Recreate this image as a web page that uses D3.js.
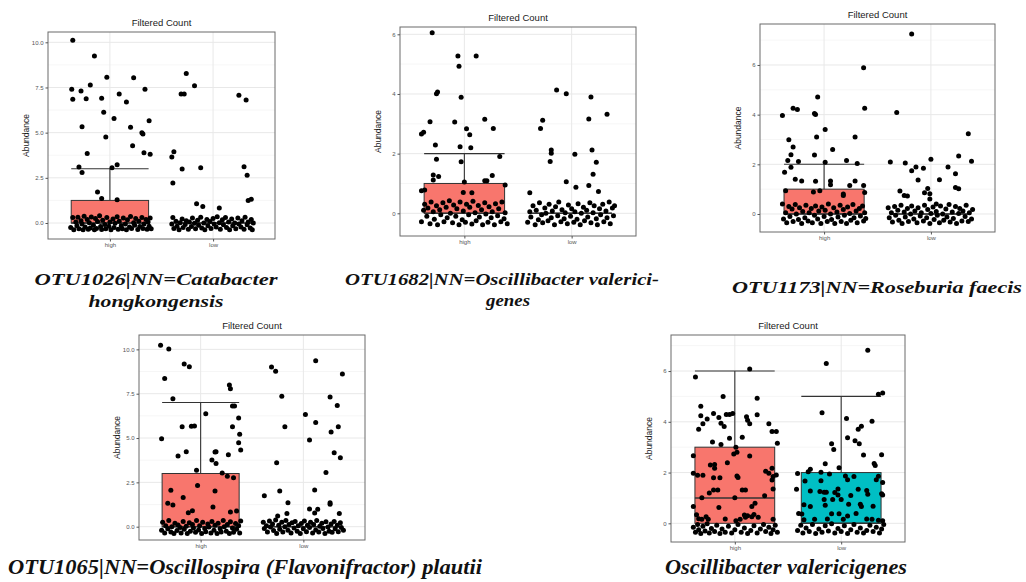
<!DOCTYPE html>
<html><head><meta charset="utf-8">
<script src="https://cdn.jsdelivr.net/npm/d3@7"></script>
<style>body{margin:0;background:#fff}svg{display:block}</style>
</head><body><svg id="c" width="1026" height="582"></svg>
<script>
// ---------- data ----------
const categories = ["high", "low"];
const plotTitle = "Filtered Count";
const yLabel = "Abundance";
const ticksA = [0, 2.5, 5, 7.5, 10];
const ticksB = [0, 2, 4, 6];

// box stats: [q1, median, q3, upper whisker]
const p1Box = [[0, 0, 1.25, 3], [0, 0, 0, 0]];
const p2Box = [[0, 0, 1, 2], [0, 0, 0, 0]];
const p3Box = [[0, 0, 1, 2], [0, 0, 0, 0]];
const p4Box = [[0, 0, 3, 7], [0, 0, 0, 0]];
const p5Box = [[0, 1, 3, 6], [0, 0, 2, 5]];

// points: [jitter (category units), abundance]
const p1High = [[-0.36,10.11],[-0.15,9.24],[-0.37,7.40],[-0.36,6.85],[-0.28,7.31],[-0.19,7.64],[-0.23,6.88],[-0.03,8.06],[-0.08,6.90],[0.09,7.14],[0.16,6.70],[0.23,8.04],[0.34,7.40],[-0.27,5.33],[-0.06,6.13],[0.04,5.79],[-0.04,4.76],[0.20,5.30],[0.32,4.93],[0.31,5.00],[0.38,5.66],[0.22,4.28],[-0.22,3.84],[0.33,3.89],[0.39,3.80],[-0.30,3.10],[-0.27,2.80],[0.02,3.06],[0.07,3.23],[-0.12,1.72],[-0.08,1.35],[0.07,1.29],
[-0.38,-0.25],[-0.36,0.30],[-0.35,-0.38],[-0.33,0.05],[-0.32,-0.15],[-0.31,0.32],[-0.30,-0.32],[-0.28,0.12],[-0.27,-0.05],[-0.26,-0.38],[-0.25,0.38],[-0.24,-0.22],[-0.22,0.20],[-0.21,-0.35],[-0.20,0.02],[-0.19,-0.28],[-0.18,0.33],[-0.16,-0.12],[-0.15,-0.38],[-0.14,0.25],[-0.13,-0.30],[-0.12,0.08],[-0.10,0.40],[-0.09,-0.20],[-0.08,-0.36],[-0.07,0.15],[-0.05,-0.08],[-0.04,-0.32],[-0.03,0.30],[-0.01,-0.18],[0.00,0.05],[0.01,-0.38],[0.03,0.22],[0.04,-0.25],[0.05,-0.02],[0.07,0.35],[0.08,-0.35],[0.09,0.10],[0.11,-0.15],[0.12,-0.32],[0.13,0.28],[0.15,-0.05],[0.16,-0.38],[0.17,0.18],[0.19,-0.22],[0.20,0.36],[0.21,-0.30],[0.23,0.02],[0.24,-0.12],[0.25,0.25],[0.27,-0.36],[0.28,0.10],[0.29,-0.20],[0.31,0.30],[0.32,-0.30],[0.33,-0.05],[0.35,0.20],[0.36,-0.35],[0.37,0.05],[0.38,-0.18],[0.39,0.28],[0.40,-0.32]];
const p1Low = [[-0.26,8.28],[-0.18,7.60],[-0.31,7.14],[-0.28,7.14],[0.25,7.07],[0.32,6.81],[-0.40,3.65],[-0.38,3.95],[-0.30,2.99],[-0.12,3.06],[0.30,3.12],[0.33,2.64],[-0.39,2.21],[-0.16,1.07],[-0.10,0.92],[0.06,0.83],[0.34,1.25],[0.37,1.31],
[-0.40,-0.05],[-0.39,0.30],[-0.38,-0.30],[-0.36,0.10],[-0.35,-0.18],[-0.33,-0.38],[-0.32,0.02],[-0.30,0.22],[-0.29,-0.25],[-0.27,-0.08],[-0.26,0.12],[-0.24,-0.35],[-0.23,0.05],[-0.21,-0.20],[-0.20,0.28],[-0.18,-0.02],[-0.17,-0.32],[-0.15,0.15],[-0.14,-0.12],[-0.12,0.32],[-0.11,-0.28],[-0.09,0.00],[-0.08,-0.38],[-0.06,0.20],[-0.05,-0.15],[-0.03,0.08],[-0.02,-0.30],[0.00,0.25],[0.01,-0.05],[0.03,-0.22],[0.04,0.35],[0.06,0.02],[0.07,-0.35],[0.09,0.18],[0.10,-0.10],[0.12,0.30],[0.13,-0.25],[0.15,0.05],[0.16,-0.38],[0.18,0.22],[0.19,-0.15],[0.21,0.00],[0.22,-0.32],[0.24,0.28],[0.25,-0.05],[0.27,-0.22],[0.28,0.12],[0.30,-0.35],[0.31,0.32],[0.33,-0.10],[0.34,0.05],[0.36,-0.28],[0.37,0.20],[0.38,-0.38],[0.39,0.00]];

const p2High = [[-0.30,6.05],[-0.06,5.27],[0.11,5.27],[-0.05,4.93],[-0.26,4.01],[-0.25,4.07],[-0.03,3.89],[-0.32,3.07],[-0.09,3.06],[0.19,3.15],[-0.40,2.66],[-0.38,2.72],[0.02,2.83],[0.05,2.63],[0.27,2.84],[-0.27,2.29],[-0.04,2.23],[0.06,2.20],[-0.26,1.81],[-0.03,1.73],[0.33,1.90],[-0.29,1.28],[-0.24,1.23],[-0.29,1.12],[0.26,1.27],[0.19,1.09],[0.21,1.09],[0.00,1.05],[-0.40,0.76],[-0.37,0.78],[-0.01,0.70],[0.07,0.69],[0.38,0.95],
[-0.40,-0.28],[-0.38,0.10],[-0.37,0.30],[-0.35,-0.10],[-0.34,0.18],[-0.32,-0.35],[-0.31,0.38],[-0.29,0.05],[-0.28,-0.20],[-0.26,0.25],[-0.25,-0.38],[-0.23,0.12],[-0.22,-0.05],[-0.20,0.35],[-0.19,-0.28],[-0.17,0.20],[-0.16,-0.15],[-0.14,0.42],[-0.13,0.00],[-0.11,-0.32],[-0.10,0.28],[-0.08,-0.10],[-0.07,0.15],[-0.05,-0.38],[-0.04,0.38],[-0.02,-0.22],[-0.01,0.08],[0.01,-0.30],[0.02,0.30],[0.04,-0.05],[0.05,0.20],[0.07,-0.36],[0.08,0.40],[0.10,0.02],[0.11,-0.25],[0.13,0.26],[0.14,-0.12],[0.16,0.12],[0.17,-0.38],[0.19,0.35],[0.20,-0.02],[0.22,-0.30],[0.23,0.22],[0.25,-0.15],[0.26,0.05],[0.28,-0.38],[0.29,0.32],[0.31,-0.08],[0.32,0.15],[0.34,-0.28],[0.35,0.38],[0.37,-0.18],[0.38,0.02],[0.40,-0.35]];
const p2Low = [[-0.14,4.13],[-0.05,4.01],[0.18,3.90],[-0.27,3.12],[-0.29,2.84],[0.16,3.16],[0.33,3.32],[-0.19,2.12],[-0.19,2.01],[-0.20,1.74],[0.03,1.98],[0.19,2.12],[0.23,1.71],[-0.05,1.06],[0.04,0.87],[0.20,1.31],[0.16,0.93],[0.25,0.73],[-0.39,0.69],
[-0.41,-0.30],[-0.39,0.05],[-0.38,-0.12],[-0.36,0.25],[-0.34,-0.38],[-0.33,0.10],[-0.31,-0.22],[-0.30,0.35],[-0.28,-0.05],[-0.27,-0.32],[-0.25,0.18],[-0.24,0.00],[-0.22,-0.25],[-0.21,0.30],[-0.19,-0.15],[-0.18,0.08],[-0.16,-0.38],[-0.15,0.22],[-0.13,-0.08],[-0.12,0.38],[-0.10,-0.28],[-0.09,0.12],[-0.07,-0.18],[-0.06,0.02],[-0.04,-0.35],[-0.03,0.28],[-0.01,-0.10],[0.00,0.15],[0.02,-0.30],[0.03,0.05],[0.05,-0.20],[0.06,0.32],[0.08,-0.38],[0.09,0.00],[0.11,0.20],[0.12,-0.25],[0.14,0.10],[0.15,-0.12],[0.17,0.35],[0.18,-0.32],[0.20,0.02],[0.21,0.25],[0.23,-0.18],[0.24,-0.38],[0.26,0.15],[0.27,-0.05],[0.29,0.30],[0.30,-0.28],[0.32,0.08],[0.33,-0.15],[0.35,0.38],[0.36,-0.35],[0.38,0.18],[0.39,-0.08],[0.40,0.25]];

const p3High = [[0.37,5.89],[-0.06,4.71],[-0.29,4.26],[-0.25,4.21],[-0.39,3.97],[-0.09,4.05],[-0.08,4.01],[0.38,4.26],[0.01,3.40],[-0.33,2.99],[-0.07,3.10],[0.29,3.10],[-0.29,2.70],[0.08,2.60],[-0.31,2.39],[-0.09,2.38],[-0.34,2.15],[-0.24,2.11],[0.01,2.08],[0.21,2.15],[0.31,2.03],[-0.31,1.88],[-0.37,1.68],[-0.27,1.40],[-0.21,1.33],[-0.08,1.32],[0.06,1.33],[0.06,1.18],[0.24,1.15],[0.29,1.33],[0.37,1.15],[-0.36,0.94],[-0.10,0.89],[-0.04,0.94],[0.18,0.74],[0.18,0.81],[0.38,0.87],
[-0.39,0.40],[-0.38,-0.20],[-0.36,0.05],[-0.35,-0.35],[-0.33,0.30],[-0.32,-0.10],[-0.30,0.20],[-0.29,-0.30],[-0.27,0.38],[-0.26,0.00],[-0.24,-0.22],[-0.23,0.25],[-0.21,-0.38],[-0.20,0.10],[-0.18,-0.15],[-0.17,0.35],[-0.15,-0.28],[-0.14,0.05],[-0.12,0.22],[-0.11,-0.35],[-0.09,-0.05],[-0.08,0.32],[-0.06,-0.20],[-0.05,0.12],[-0.03,-0.38],[-0.02,0.28],[0.00,-0.10],[0.01,0.15],[0.03,-0.30],[0.04,0.40],[0.06,0.00],[0.07,-0.22],[0.09,0.25],[0.10,-0.38],[0.12,0.08],[0.13,-0.12],[0.15,0.35],[0.16,-0.30],[0.18,0.18],[0.19,-0.05],[0.21,-0.38],[0.22,0.28],[0.24,0.02],[0.25,-0.25],[0.27,0.38],[0.28,-0.15],[0.30,0.12],[0.31,-0.35],[0.33,0.22],[0.34,-0.08],[0.36,0.32],[0.37,-0.28],[0.38,0.05],[0.39,-0.18]];
const p3Low = [[-0.18,7.25],[-0.32,4.09],[-0.38,2.09],[-0.24,2.05],[-0.14,1.89],[-0.18,1.74],[-0.07,1.84],[0.00,2.20],[-0.12,1.37],[0.08,1.38],[0.16,1.89],[0.23,1.62],[0.26,2.34],[0.23,1.07],[0.26,1.02],[0.35,3.23],[0.38,2.12],[-0.29,0.93],[-0.25,0.74],[-0.22,0.72],[-0.06,0.86],[-0.03,1.03],[-0.01,0.82],[-0.01,0.60],[0.05,0.40],
[-0.40,0.25],[-0.39,-0.15],[-0.37,0.05],[-0.36,-0.32],[-0.34,0.30],[-0.33,-0.05],[-0.31,0.15],[-0.30,-0.25],[-0.28,0.35],[-0.27,-0.38],[-0.25,0.08],[-0.24,-0.12],[-0.22,0.22],[-0.21,-0.30],[-0.19,0.00],[-0.18,0.32],[-0.16,-0.20],[-0.15,0.12],[-0.13,-0.35],[-0.12,0.25],[-0.10,-0.08],[-0.09,0.05],[-0.07,-0.28],[-0.06,0.35],[-0.04,-0.15],[-0.03,0.18],[-0.01,-0.38],[0.00,0.02],[0.02,0.28],[0.03,-0.22],[0.05,0.10],[0.06,-0.05],[0.08,-0.35],[0.09,0.32],[0.11,0.00],[0.12,-0.25],[0.14,0.20],[0.15,-0.12],[0.17,0.38],[0.18,-0.32],[0.20,0.08],[0.21,-0.18],[0.23,0.30],[0.24,-0.38],[0.26,0.02],[0.27,0.22],[0.29,-0.28],[0.30,0.12],[0.32,-0.10],[0.33,0.35],[0.35,-0.30],[0.36,0.05],[0.38,-0.20],[0.39,0.18]];

const p4High = [[-0.39,10.23],[-0.31,10.02],[-0.35,8.35],[-0.16,9.17],[-0.11,9.02],[-0.27,7.22],[0.28,7.99],[0.29,7.78],[-0.38,4.96],[-0.18,5.64],[-0.09,5.66],[-0.06,5.68],[0.05,6.37],[0.31,6.80],[0.33,6.80],[0.37,6.13],[0.31,5.64],[0.38,5.21],[0.37,4.74],[0.39,4.32],[-0.22,3.98],[-0.14,4.23],[0.14,4.21],[0.15,4.23],[0.11,3.76],[0.15,3.57],[0.27,4.06],[-0.04,3.18],[0.21,3.03],[0.26,2.84],[0.32,2.76],[-0.03,2.33],[-0.29,2.05],[0.14,2.01],[-0.17,1.65],[-0.32,1.32],[-0.27,1.22],[0.12,1.11],[-0.08,0.90],[-0.12,0.79],[0.29,0.83],[0.35,0.88],
[-0.38,-0.20],[-0.37,0.25],[-0.35,-0.35],[-0.34,0.05],[-0.32,-0.12],[-0.31,0.35],[-0.29,-0.30],[-0.28,0.00],[-0.26,-0.38],[-0.25,0.20],[-0.23,-0.22],[-0.22,0.10],[-0.20,-0.05],[-0.19,-0.35],[-0.17,0.30],[-0.16,-0.15],[-0.14,0.02],[-0.13,-0.38],[-0.11,0.22],[-0.10,-0.25],[-0.08,0.12],[-0.07,-0.08],[-0.05,-0.32],[-0.04,0.35],[-0.02,-0.18],[-0.01,0.05],[0.01,-0.38],[0.02,0.25],[0.04,-0.10],[0.05,-0.28],[0.07,0.15],[0.08,-0.02],[0.10,-0.35],[0.11,0.30],[0.13,-0.20],[0.14,0.08],[0.16,-0.38],[0.17,0.20],[0.19,-0.12],[0.20,-0.30],[0.22,0.35],[0.23,0.00],[0.25,-0.25],[0.26,0.12],[0.28,-0.38],[0.29,0.28],[0.31,-0.08],[0.32,-0.32],[0.34,0.18],[0.35,-0.15],[0.37,0.05],[0.38,-0.35],[0.39,0.32]];
const p4Low = [[-0.31,9.00],[-0.27,8.76],[0.12,9.36],[-0.21,7.35],[0.26,7.31],[0.33,6.84],[0.38,8.61],[0.02,6.33],[-0.18,5.64],[0.12,5.88],[0.06,4.89],[0.34,5.64],[0.27,5.34],[0.36,3.89],[0.30,4.17],[0.22,3.06],[-0.26,3.61],[-0.23,2.01],[0.11,2.07],[-0.38,1.75],[-0.15,1.35],[0.26,1.35],[0.26,1.26],[0.06,1.00],[0.14,0.98],[0.11,0.77],[-0.25,0.60],[-0.16,0.75],[0.35,0.75],
[-0.39,0.25],[-0.38,-0.10],[-0.36,0.05],[-0.35,-0.30],[-0.33,0.32],[-0.32,-0.02],[-0.30,0.15],[-0.29,-0.22],[-0.27,0.38],[-0.26,-0.38],[-0.24,0.08],[-0.23,-0.15],[-0.21,0.25],[-0.20,-0.30],[-0.18,0.00],[-0.17,0.35],[-0.15,-0.20],[-0.14,0.12],[-0.12,-0.35],[-0.11,0.22],[-0.09,-0.08],[-0.08,0.30],[-0.06,-0.25],[-0.05,0.05],[-0.03,-0.38],[-0.02,0.18],[0.00,-0.12],[0.01,0.32],[0.03,-0.28],[0.04,0.08],[0.06,-0.05],[0.07,0.25],[0.09,-0.35],[0.10,0.12],[0.12,-0.18],[0.13,0.35],[0.15,-0.30],[0.16,0.02],[0.18,0.20],[0.19,-0.10],[0.21,-0.38],[0.22,0.28],[0.24,-0.02],[0.25,-0.25],[0.27,0.15],[0.28,-0.32],[0.30,0.30],[0.31,-0.12],[0.33,0.08],[0.34,-0.28],[0.36,0.22],[0.37,-0.05],[0.39,-0.20]];

const p5High = [[0.14,6.08],[-0.37,5.77],[-0.11,5.00],[0.21,4.93],[-0.32,4.61],[-0.32,4.24],[-0.30,3.92],[-0.26,4.11],[-0.34,3.71],[-0.20,4.33],[-0.15,4.17],[-0.13,3.94],[-0.10,3.81],[-0.08,4.29],[-0.05,4.29],[-0.02,4.33],[0.11,4.20],[0.12,4.06],[0.14,3.92],[0.21,4.28],[0.32,3.92],[0.35,3.62],[0.39,3.62],[0.40,3.15],[-0.21,3.20],[-0.13,3.11],[-0.05,3.35],[0.07,3.39],[0.01,3.00],[0.02,2.80],[-0.01,2.73],[-0.07,2.39],[0.14,2.65],[-0.39,2.66],[-0.39,1.97],[-0.35,1.89],[-0.30,1.89],[-0.23,2.30],[-0.19,2.32],[-0.19,2.17],[-0.20,1.80],[-0.14,1.80],[0.02,1.86],[0.03,1.81],[0.29,2.05],[0.32,1.97],[0.35,2.17],[0.36,1.84],[0.39,1.90],[0.35,1.71],[-0.20,1.31],[-0.16,1.31],[-0.24,1.19],[0.07,1.31],[0.10,1.31],[0.36,1.35],[0.00,1.01],[0.28,1.09],[-0.31,1.01],[0.19,0.79],[0.16,0.66],[-0.39,0.66],[-0.15,0.62],[-0.36,0.34],[-0.27,0.26],[-0.34,0.18],[-0.31,0.16],[-0.25,0.16],[-0.09,0.17],[0.01,0.10],[0.05,0.16],[0.09,0.33],[0.10,0.24],[0.12,0.30],[0.16,0.26],[0.18,0.35],[0.22,0.24],[0.36,0.16],
[-0.39,-0.15],[-0.37,-0.35],[-0.35,-0.05],[-0.34,-0.25],[-0.32,-0.40],[-0.30,-0.12],[-0.28,-0.30],[-0.26,-0.02],[-0.24,-0.38],[-0.22,-0.20],[-0.19,-0.32],[-0.17,-0.08],[-0.14,-0.40],[-0.12,-0.22],[-0.09,-0.35],[-0.06,-0.12],[-0.03,-0.38],[0.00,-0.25],[0.03,-0.05],[0.06,-0.35],[0.09,-0.18],[0.12,-0.40],[0.15,-0.28],[0.18,-0.10],[0.21,-0.38],[0.24,-0.22],[0.27,-0.05],[0.29,-0.32],[0.32,-0.15],[0.34,-0.40],[0.36,-0.25],[0.38,-0.08],[0.40,-0.35]];
const p5Low = [[0.25,6.82],[-0.14,6.30],[0.35,5.09],[0.39,5.13],[-0.18,4.36],[0.05,4.13],[0.29,4.02],[0.19,3.82],[0.16,3.71],[0.06,3.37],[0.13,3.25],[0.17,3.14],[-0.09,3.14],[-0.07,2.91],[0.21,2.69],[0.38,2.70],[-0.15,2.35],[-0.02,2.19],[0.31,2.36],[0.32,2.28],[-0.29,2.13],[-0.31,2.03],[-0.41,1.96],[-0.19,2.01],[-0.11,1.94],[0.04,1.86],[0.12,1.84],[0.35,1.85],[0.33,1.72],[0.39,1.61],[-0.19,1.68],[-0.34,1.67],[0.06,1.72],[0.38,1.17],[0.39,1.12],[-0.42,1.34],[-0.29,1.27],[-0.20,1.25],[-0.16,1.22],[-0.14,1.22],[-0.06,1.21],[-0.03,1.35],[-0.03,1.12],[0.09,1.10],[0.16,1.34],[0.24,1.29],[0.25,1.15],[-0.16,0.94],[-0.08,0.94],[0.00,0.94],[-0.35,0.73],[-0.29,0.66],[-0.15,0.71],[0.07,0.75],[0.18,0.75],[0.19,0.66],[0.30,0.67],[-0.40,0.39],[-0.37,0.37],[-0.09,0.38],[-0.02,0.38],[0.06,0.29],[0.14,0.39],[0.24,0.17],[0.29,0.16],[0.35,0.12],[0.39,0.10],[-0.35,0.14],[-0.25,0.16],[-0.13,0.17],[0.02,0.16],
[-0.41,-0.28],[-0.38,-0.08],[-0.36,-0.38],[-0.33,-0.18],[-0.30,-0.32],[-0.27,-0.05],[-0.24,-0.40],[-0.21,-0.22],[-0.18,-0.35],[-0.15,-0.10],[-0.12,-0.30],[-0.09,-0.02],[-0.06,-0.38],[-0.03,-0.20],[0.00,-0.32],[0.03,-0.10],[0.06,-0.40],[0.09,-0.25],[0.12,-0.05],[0.15,-0.35],[0.18,-0.18],[0.21,-0.38],[0.24,-0.28],[0.27,-0.08],[0.30,-0.32],[0.33,-0.15],[0.36,-0.38],[0.38,-0.22],[0.40,-0.05]];

const captions = [
  ["OTU1026|NN=Catabacter", "hongkongensis"],
  ["OTU1682|NN=Oscillibacter valerici-", "genes"],
  ["OTU1173|NN=Roseburia faecis"],
  ["OTU1065|NN=Oscillospira (Flavonifractor) plautii"],
  ["Oscillibacter valericigenes"]
];

// ---------- layout ----------
const fills = ["#F8766D", "#00BFC4"];
const panels = [
  {x0:48, x1:275, y0:32, y1:239, dom:[-0.885,10.57], ticks:ticksA, fmt:d3.format(".1f"), pts:[p1High,p1Low], box:p1Box, lowFill:false,
   cap:{lines:captions[0], cx:[156,156], by:[285,307], len:[243,135], fs:17}},
  {x0:400, x1:636, y0:27, y1:236, dom:[-0.761,6.245], ticks:ticksB, fmt:d3.format("d"), pts:[p2High,p2Low], box:p2Box, lowFill:false,
   cap:{lines:captions[1], cx:[502,508], by:[285,306], len:[314,44], fs:17}},
  {x0:760, x1:995, y0:24, y1:232, dom:[-0.725,7.65], ticks:ticksB, fmt:d3.format("d"), pts:[p3High,p3Low], box:p3Box, lowFill:false,
   cap:{lines:captions[2], cx:[877], by:[293], len:[290], fs:17}},
  {x0:139, x1:365, y0:335, y1:540, dom:[-0.75,10.81], ticks:ticksA, fmt:d3.format(".1f"), pts:[p4High,p4Low], box:p4Box, lowFill:false,
   cap:{lines:captions[3], cx:[245], by:[574], len:[474], fs:21}},
  {x0:671, x1:905, y0:335, y1:542, dom:[-0.736,7.42], ticks:ticksB, fmt:d3.format("d"), pts:[p5High,p5Low], box:p5Box, lowFill:true,
   cap:{lines:captions[4], cx:[786], by:[574], len:[242], fs:21}}
];

const svg = d3.select("#c");
svg.append("rect").attr("width",1026).attr("height",582).attr("fill","#fff");

panels.forEach(p => {
  const g = svg.append("g");
  const x = d3.scaleLinear().domain([0.4, 2.6]).range([p.x0, p.x1]);
  const y = d3.scaleLinear().domain(p.dom).range([p.y1, p.y0]);
  const step = p.ticks[1] - p.ticks[0];
  const minor = [];
  for (let i = -1; i < p.ticks.length + 1; i++) {
    const v = (i + 0.5) * step;
    if (v > p.dom[0] && v < p.dom[1]) minor.push(v);
  }
  g.append("rect").attr("x",p.x0).attr("y",p.y0).attr("width",p.x1-p.x0).attr("height",p.y1-p.y0).attr("fill","#fff");
  g.selectAll(".mn").data(minor).join("line")
    .attr("x1",p.x0).attr("x2",p.x1).attr("y1",d=>y(d)).attr("y2",d=>y(d))
    .attr("stroke","#f4f4f4").attr("stroke-width",0.8);
  g.selectAll(".mj").data(p.ticks).join("line")
    .attr("x1",p.x0).attr("x2",p.x1).attr("y1",d=>y(d)).attr("y2",d=>y(d))
    .attr("stroke","#e8e8e8").attr("stroke-width",1);
  g.selectAll(".vx").data([1,2]).join("line")
    .attr("x1",d=>x(d)).attr("x2",d=>x(d)).attr("y1",p.y0).attr("y2",p.y1)
    .attr("stroke","#e8e8e8").attr("stroke-width",1);

  p.box.forEach((b, i) => {
    const cx = i + 1, hw = 0.375;
    const [q1, med, q3, wh] = b;
    g.append("line").attr("x1",x(cx)).attr("x2",x(cx)).attr("y1",y(q3)).attr("y2",y(wh))
      .attr("stroke","#333").attr("stroke-width",1.1);
    g.append("line").attr("x1",x(cx-hw)).attr("x2",x(cx+hw)).attr("y1",y(wh)).attr("y2",y(wh))
      .attr("stroke","#333").attr("stroke-width",1.1);
    g.append("rect").attr("x",x(cx-hw)).attr("y",y(q3)).attr("width",x(cx+hw)-x(cx-hw))
      .attr("height",Math.max(0,y(q1)-y(q3)))
      .attr("fill", (i===0 || p.lowFill) ? fills[i] : "none")
      .attr("stroke","#333").attr("stroke-width",1);
    g.append("line").attr("x1",x(cx-hw)).attr("x2",x(cx+hw)).attr("y1",y(med)).attr("y2",y(med))
      .attr("stroke","#333").attr("stroke-width",1.5);
  });

  p.pts.forEach((arr, i) => {
    g.selectAll(null).data(arr).join("circle")
      .attr("cx", d => x(i + 1 + d[0])).attr("cy", d => y(d[1])).attr("r", 2.5)
      .attr("fill","#000");
  });

  g.append("rect").attr("x",p.x0).attr("y",p.y0).attr("width",p.x1-p.x0).attr("height",p.y1-p.y0)
    .attr("fill","none").attr("stroke","#6a6a6a").attr("stroke-width",1);

  const ay = g.append("g").attr("transform",`translate(${p.x0},0)`)
    .call(d3.axisLeft(y).tickValues(p.ticks).tickFormat(p.fmt).tickSize(2.5).tickPadding(2));
  const ax = g.append("g").attr("transform",`translate(0,${p.y1})`)
    .call(d3.axisBottom(x).tickValues([1,2]).tickFormat(d => categories[d-1]).tickSize(2.5).tickPadding(1.5));
  [ay, ax].forEach(a => {
    a.select(".domain").remove();
    a.selectAll("line").attr("stroke","#555");
    a.selectAll("text").attr("fill","#555").attr("font-family","Liberation Sans, Arial, sans-serif").attr("font-size","6px");
  });

  g.append("text").attr("x",(p.x0+p.x1)/2).attr("y",p.y0-6).attr("text-anchor","middle")
    .attr("font-family","Liberation Sans, Arial, sans-serif").attr("font-size","9.5px").attr("fill","#1a1a1a")
    .text(plotTitle);
  g.append("text").attr("transform",`translate(${p.x0-19},${(p.y0+p.y1)/2}) rotate(-90)`)
    .attr("text-anchor","middle").attr("font-family","Liberation Sans, Arial, sans-serif")
    .attr("font-size","8.5px").attr("fill","#1a1a1a").text(yLabel);

  p.cap.lines.forEach((t, k) => {
    svg.append("text").attr("x",p.cap.cx[k]).attr("y",p.cap.by[k]).attr("text-anchor","middle")
      .attr("font-family","Liberation Serif, Times New Roman, serif").attr("font-style","italic").attr("font-weight","bold")
      .attr("font-size",p.cap.fs+"px").attr("fill","#111")
      .attr("textLength",p.cap.len[k]).attr("lengthAdjust","spacingAndGlyphs")
      .text(t);
  });
});
</script>
</body></html>
